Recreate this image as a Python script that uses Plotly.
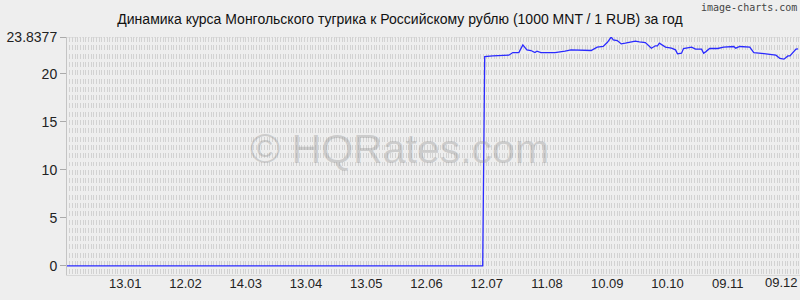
import plotly.graph_objects as go

# ---- data ----
dates = [
    "2022-12-15", "2023-07-10", "2023-07-11", "2023-07-15", "2023-07-23", "2023-07-25",
    "2023-07-28", "2023-07-30", "2023-08-01", "2023-08-03", "2023-08-05", "2023-08-06",
    "2023-08-08", "2023-08-15", "2023-08-20", "2023-08-23", "2023-09-02", "2023-09-05",
    "2023-09-08", "2023-09-10", "2023-09-12", "2023-09-13", "2023-09-15", "2023-09-17",
    "2023-09-19", "2023-09-23", "2023-09-24", "2023-09-26", "2023-09-29", "2023-10-02",
    "2023-10-04", "2023-10-05", "2023-10-06", "2023-10-09", "2023-10-12", "2023-10-14",
    "2023-10-15", "2023-10-17", "2023-10-18", "2023-10-22", "2023-10-24", "2023-10-27",
    "2023-10-28", "2023-10-29", "2023-10-31", "2023-11-04", "2023-11-07", "2023-11-12",
    "2023-11-13", "2023-11-15", "2023-11-20", "2023-11-22", "2023-11-26", "2023-11-28",
    "2023-12-01", "2023-12-03", "2023-12-05", "2023-12-07", "2023-12-09", "2023-12-10",
    "2023-12-12", "2023-12-13", "2023-12-14",
]
rates = [
    0.0, 0.0, 21.80, 21.88, 21.94, 22.22,
    22.22, 23.02, 22.50, 22.43, 22.22, 22.36,
    22.22, 22.22, 22.36, 22.50, 22.43, 22.78,
    22.85, 23.26, 23.8377, 23.54, 23.47, 23.12,
    23.19, 23.33, 23.40, 23.33, 23.26, 22.67,
    22.92, 22.92, 23.19, 22.78, 22.67, 22.50,
    22.08, 22.15, 22.64, 22.78, 22.57, 22.57,
    22.15, 22.29, 22.64, 22.64, 22.78, 22.85,
    22.67, 22.85, 22.78, 22.22, 22.15, 22.08,
    22.01, 21.94, 21.60, 21.53, 21.87, 21.87,
    22.33, 22.57, 22.60,
]

x_tick_dates = ["2023-01-13", "2023-02-12", "2023-03-14", "2023-04-13", "2023-05-13",
                "2023-06-12", "2023-07-12", "2023-08-11", "2023-09-10", "2023-10-10",
                "2023-11-09", "2023-12-09"]
x_tick_labels = ["13.01", "12.02", "14.03", "13.04", "13.05", "12.06",
                 "12.07", "11.08", "10.09", "10.10", "09.11", "09.12"]
y_tick_vals = [0, 5, 10, 15, 20, 23.8377]
y_tick_labels = ["0", "5", "10", "15", "20", "23.8377"]

x_range = ["2022-12-15", "2023-12-15"]
y_range = [-0.94, 23.8377]

title = "Динамика курса Монгольского тугрика к Российскому рублю (1000 MNT / 1 RUB) за год"

FONT = "Liberation Sans, Arial, sans-serif"
BG = "#eeeeee"

fig = go.Figure()

# invisible trace on the overlay axis that carries the dense grid texture
fig.add_trace(go.Scatter(x=[0, 100], y=y_range, xaxis="x2", yaxis="y",
                         mode="markers", marker=dict(opacity=0), hoverinfo="skip",
                         showlegend=False))

fig.add_trace(go.Scatter(x=dates, y=rates, mode="lines",
                         line=dict(color="#2a2aff", width=1.3, shape="linear"),
                         showlegend=False))

fig.update_layout(
    width=800, height=300,
    margin=dict(l=67, r=0, t=37, b=25),
    paper_bgcolor=BG, plot_bgcolor=BG,
    font=dict(family=FONT, size=13, color="#222222"),
    title=dict(text=title, x=0.5, xanchor="center", xref="container",
               y=1 - 19 / 300, yanchor="middle", yref="container",
               font=dict(family=FONT, size=14, color="#111111")),
    xaxis=dict(type="date", range=x_range,
               tickvals=x_tick_dates[:-1], ticktext=x_tick_labels[:-1],
               showgrid=False, zeroline=False, showline=True, linecolor="#d8d8d8",
               ticks="", ticklabelstandoff=-4,
               tickfont=dict(size=13, color="#222222")),
    xaxis2=dict(overlaying="x", range=[0, 100], dtick=0.3643, showgrid=True,
                gridcolor="#d2d2d2", gridwidth=1, griddash="5px,3.3px",
                showticklabels=False, ticks="", zeroline=False, showline=False),
    yaxis=dict(range=y_range, tickvals=y_tick_vals, ticktext=y_tick_labels,
               showgrid=False, zeroline=False, showline=True, linecolor="#c4c4c4",
               ticks="outside", ticklen=6, tickcolor="#aaaaaa",
               tickfont=dict(size=14, color="#222222")),
    shapes=[dict(type="line", xref="paper", yref="y", x0=0, x1=1,
                 y0=y_tick_vals[-1], y1=y_tick_vals[-1],
                 line=dict(color="#cdcdcd", width=1, dash="2px,1px"), layer="below")],
    annotations=[
        dict(text="© HQRates.com", xref="paper", yref="paper", x=0.454, y=0.53,
             xanchor="center", yanchor="middle", showarrow=False,
             font=dict(family=FONT, size=41, color="rgba(140,140,140,0.35)")),
        dict(text="image-charts.com", xref="paper", yref="paper", x=0.998, y=1.122,
             xanchor="right", yanchor="middle", showarrow=False,
             font=dict(family="DejaVu Sans Mono, monospace", size=10, color="#444444")),
        # last x tick label sits at the right edge; kept inside the page
        dict(text=x_tick_labels[-1], xref="x", yref="paper", x=x_tick_dates[-1], y=0,
             xanchor="center", yanchor="middle", xshift=-6, yshift=-7,
             showarrow=False, borderpad=0,
             font=dict(family=FONT, size=13, color="#222222")),
    ],
)

fig.write_html("out.html")
